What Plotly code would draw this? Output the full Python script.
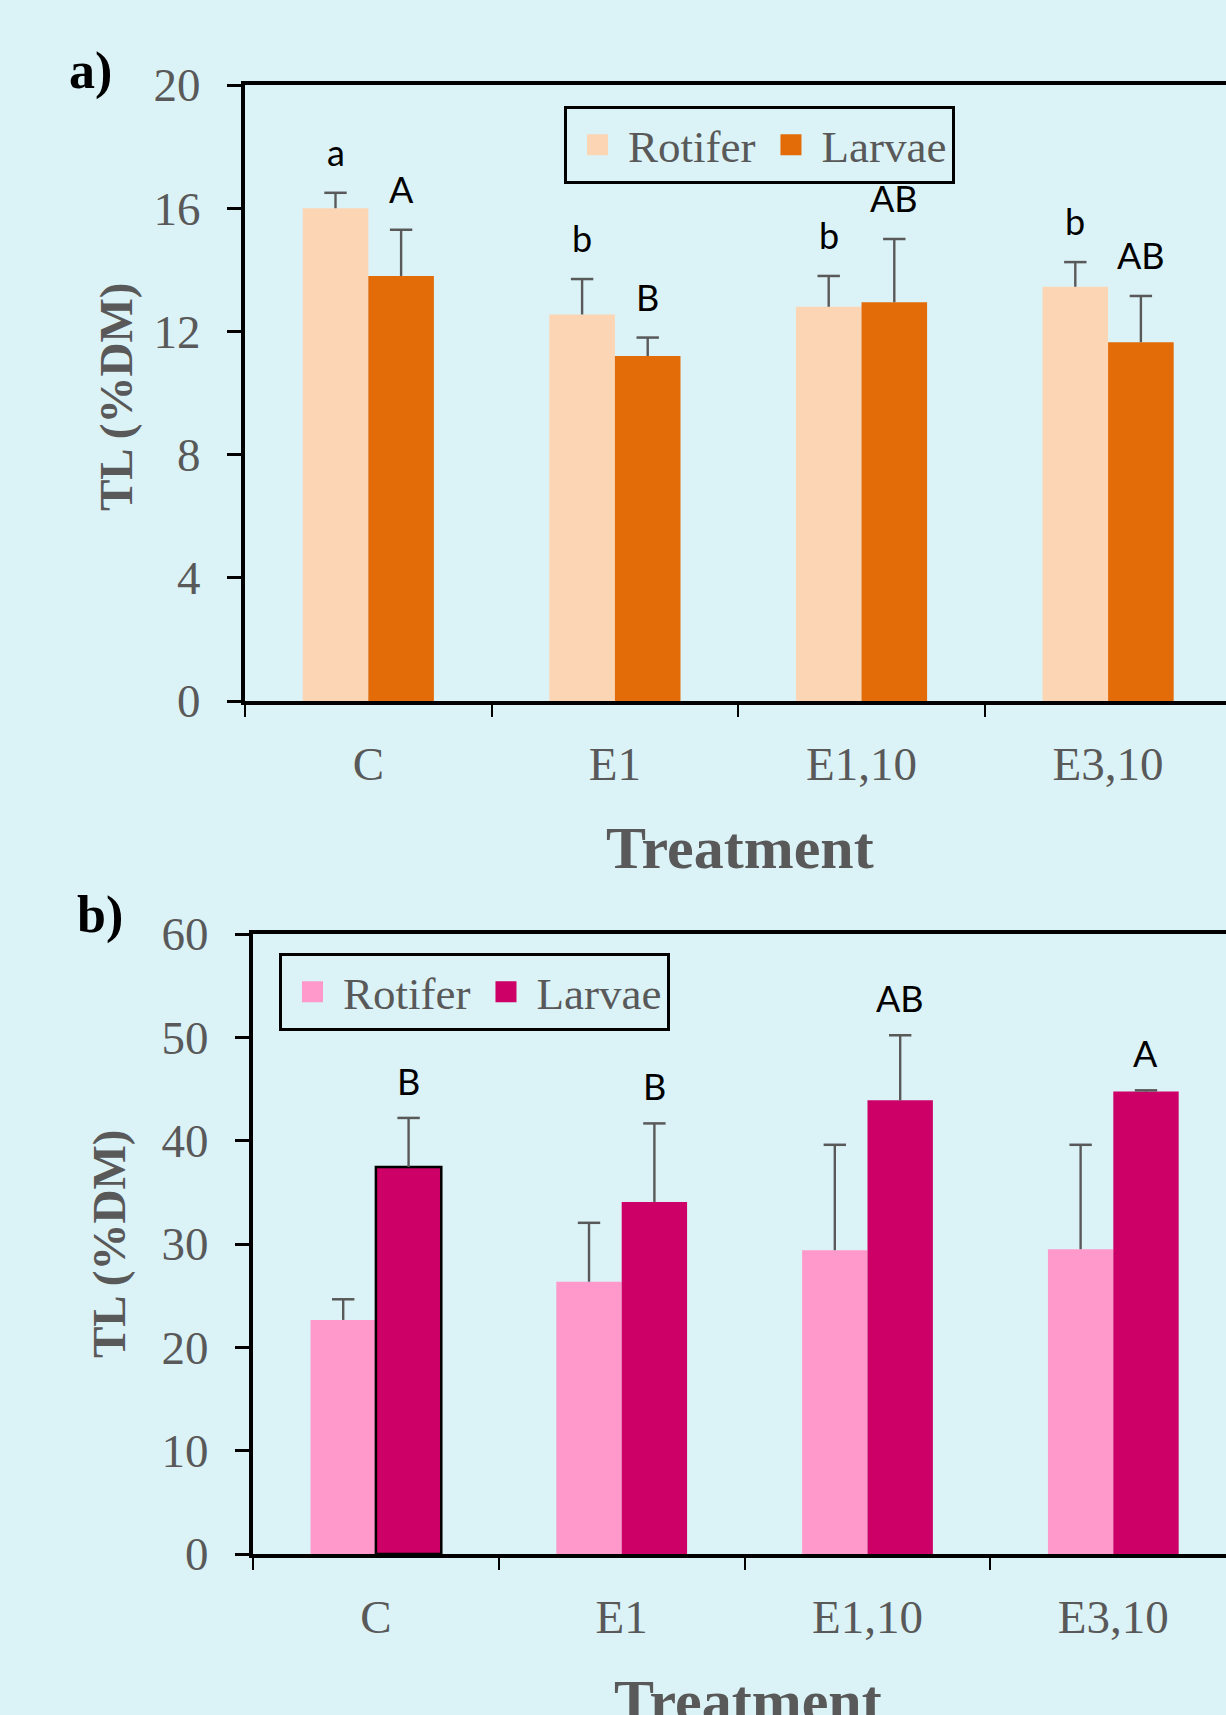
import plotly.graph_objects as go

categories = ["C", "E1", "E1,10", "E3,10"]

# Panel a
a_rotifer = [16.0, 12.55, 12.8, 13.45]
a_rotifer_err = [0.5, 1.15, 1.0, 0.8]
a_larvae = [13.8, 11.2, 12.95, 11.65]
a_larvae_err = [1.5, 0.6, 2.05, 1.5]
a_rotifer_letters = ["a", "b", "b", "b"]
a_larvae_letters = ["A", "B", "AB", "AB"]

# Panel b
b_rotifer = [22.65, 26.35, 29.4, 29.5]
b_rotifer_err = [2.0, 5.7, 10.2, 10.1]
b_larvae = [37.45, 34.07, 43.9, 44.75]
b_larvae_err = [4.75, 7.6, 6.3, 0.12]
b_larvae_letters = ["B", "B", "AB", "A"]

a_ticks = [0, 4, 8, 12, 16, 20]
b_ticks = [0, 10, 20, 30, 40, 50, 60]

BG = "#DBF3F7"
GRAY = "#595959"
SERIF = "Liberation Serif"
SANS = "Lato"
W, H = 1226, 1715
BARGAP = 0.468
OFF = (1 - BARGAP) / 4  # bar centre offset from category centre

# pixel geometry
ax_left, ax_top, ax_zero, ax_cw = 245, 85, 701, 246.6
bx_left, bx_top, bx_zero, bx_cw = 253, 934, 1554, 245.8

idx = list(range(len(categories)))
fig = go.Figure()

def add_panel(xa, ya, rot, rot_err, lar, lar_err, c_rot, c_lar, legend, lar_outline):
    fig.add_trace(go.Bar(
        x=idx, y=rot, name="Rotifer", marker_color=c_rot,
        marker_line_width=0, showlegend=False, xaxis=xa, yaxis=ya))
    fig.add_trace(go.Bar(
        x=idx, y=lar, name="Larvae", marker_color=c_lar,
        marker_line_width=lar_outline, marker_line_color="black", showlegend=False,
        xaxis=xa, yaxis=ya))
    # error bars (upper only, cap at top)
    for vals, errs, sgn in ((rot, rot_err, -1), (lar, lar_err, 1)):
        fig.add_trace(go.Scatter(
            x=[i + sgn * OFF for i in idx], y=[v + e for v, e in zip(vals, errs)],
            mode="markers", showlegend=False, hoverinfo="skip",
            marker=dict(symbol="line-ew", size=16, line=dict(width=2.5, color=GRAY)),
            error_y=dict(type="data", symmetric=False, array=[0] * len(vals), arrayminus=errs,
                         color=GRAY, thickness=2.4, width=0),
            xaxis=xa, yaxis=ya))
    for nm, col in (("Rotifer", c_rot), ("Larvae", c_lar)):
        fig.add_trace(go.Scatter(
            x=[None], y=[None], mode="markers", name=nm,
            marker=dict(symbol="square", size=22, color=col, line=dict(width=5, color=col)),
            xaxis=xa, yaxis=ya, legend=legend, showlegend=True))

add_panel("x", "y", a_rotifer, a_rotifer_err, a_larvae, a_larvae_err,
          "#FCD5B5", "#E36C09", "legend", [0, 0, 0, 0])
add_panel("x2", "y2", b_rotifer, b_rotifer_err, b_larvae, b_larvae_err,
          "#FF99CC", "#CC0066", "legend2", [2.5, 0, 0, 0])

annotations = []
LET = dict(family=SANS, size=36, color="black")
for i in idx:
    annotations.append(dict(x=i - OFF, y=a_rotifer[i] + a_rotifer_err[i], xref="x", yref="y",
                            text=a_rotifer_letters[i], showarrow=False, xanchor="center",
                            yanchor="bottom", yshift=17, font=LET))
    annotations.append(dict(x=i + OFF, y=a_larvae[i] + a_larvae_err[i], xref="x", yref="y",
                            text=a_larvae_letters[i], showarrow=False, xanchor="center",
                            yanchor="bottom", yshift=17, font=LET))
    annotations.append(dict(x=i + OFF, y=b_larvae[i] + b_larvae_err[i], xref="x2", yref="y2",
                            text=b_larvae_letters[i], showarrow=False, xanchor="center",
                            yanchor="bottom", yshift=13, font=LET))

def px(xp, yp):
    return xp / W, 1 - yp / H

def paper_text(txt, pos, font, angle=0):
    xx, yy = px(*pos)
    annotations.append(dict(x=xx, y=yy, xref="paper", yref="paper", text=txt, textangle=angle,
                            xanchor="center", yanchor="middle", showarrow=False, font=font))

for txt, pos in (("a)", (90, 71)), ("b)", (100, 915))):
    paper_text("<b>" + txt + "</b>", pos, dict(family=SERIF, size=52, color="black"))
for pos in ((740, 848), (748, 1701)):
    paper_text("<b>Treatment</b>", pos, dict(family=SERIF, size=60, color=GRAY))
for pos in ((116, 397), (109, 1244)):
    paper_text("<b>TL (%DM)</b>", pos, dict(family=SERIF, size=47, color=GRAY), angle=-90)

def xaxis(left, cw):
    right_cat = -0.5 + (W - left) / cw
    return dict(domain=[left / W, 1], range=[-0.5, right_cat], tickmode="array",
                tickvals=idx, ticktext=categories, ticks="", automargin=False,
                minor=dict(tickmode="linear", tick0=-0.5, dtick=1, ticks="outside", ticklen=12,
                           tickwidth=2, tickcolor="black", showgrid=False),
                showline=True, linecolor="black", linewidth=4, mirror=True,
                showgrid=False, zeroline=False,
                tickfont=dict(family=SERIF, size=47, color=GRAY), ticklabelstandoff=19)

def yaxis(top, zero, rng, ticks):
    return dict(domain=[1 - zero / H, 1 - top / H], range=rng, tickvals=ticks, automargin=False,
                showline=True, linecolor="black", linewidth=4, mirror=False,
                ticks="outside", ticklen=14, tickwidth=3, tickcolor="black",
                showgrid=False, zeroline=False,
                tickfont=dict(family=SERIF, size=47, color=GRAY), ticklabelstandoff=17)

LEG = dict(orientation="h", xanchor="left", yanchor="top",
           bgcolor="rgba(0,0,0,0)", bordercolor="black", borderwidth=3,
           font=dict(family=SERIF, size=45, color=GRAY), itemwidth=51, tracegroupgap=0)

fig.update_layout(
    width=W, height=H, autosize=False, margin=dict(l=0, r=0, t=0, b=0, pad=0, autoexpand=False),
    paper_bgcolor=BG, plot_bgcolor=BG,
    barmode="group", bargap=BARGAP, bargroupgap=0,
    xaxis=dict(xaxis(ax_left, ax_cw), anchor="y"),
    yaxis=dict(yaxis(ax_top, ax_zero, [0, 20], a_ticks), anchor="x"),
    xaxis2=dict(xaxis(bx_left, bx_cw), anchor="y2"),
    yaxis2=dict(yaxis(bx_top, bx_zero, [0, 60], b_ticks), anchor="x2"),
    legend=dict(LEG, x=564 / W, y=1 - 106 / H),
    legend2=dict(LEG, x=279 / W, y=1 - 953 / H),
    annotations=annotations,
)

fig.write_html(
    "out.html",
    config={"responsive": False, "displayModeBar": False},
    post_script="document.body.style.margin='0';document.body.style.padding='0';"
                "document.body.style.overflow='hidden';"
                "var gd=document.getElementById('{plot_id}');"
                "Plotly.relayout(gd,{width:1226,height:1715});",
)
